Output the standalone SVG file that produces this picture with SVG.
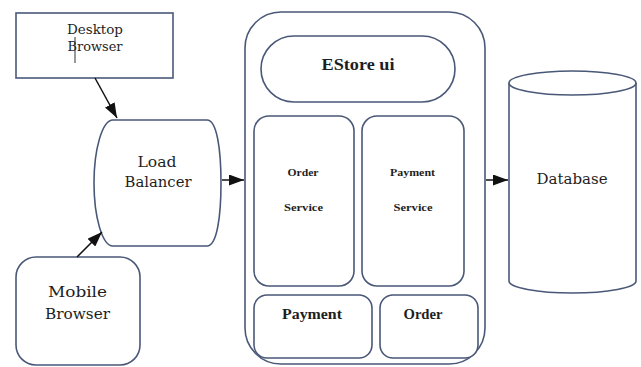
<svg xmlns="http://www.w3.org/2000/svg" width="641" height="367" viewBox="0 0 641 367">
<defs>
<style>
.s{fill:#fff;stroke:#4a5878;stroke-width:1.6}
.t{font-family:"DejaVu Serif",serif;fill:#1e1e1e;text-anchor:middle}
.b{font-family:"Liberation Serif","DejaVu Serif",serif;font-weight:bold;fill:#1e1e1e;text-anchor:middle}
.c{stroke:#111;stroke-width:1.5;fill:none}
</style>
<marker id="ah" viewBox="0 0 15 11" refX="15" refY="5.5" markerWidth="15" markerHeight="11" markerUnits="userSpaceOnUse" orient="auto">
<path d="M0,0 L15,5.5 L0,11 z" fill="#111"/>
</marker>
</defs>
<rect width="641" height="367" fill="#fff"/>
<g id="desktop">
<rect class="s" x="16" y="13" width="157" height="65"/>
<text class="t" x="95" y="34" font-size="12" textLength="56" lengthAdjust="spacingAndGlyphs">Desktop</text>
<text class="t" x="95" y="51" font-size="12" textLength="55" lengthAdjust="spacingAndGlyphs">Browser</text>
<line x1="75" y1="37" x2="75" y2="63" stroke="#333" stroke-width="1"/>
</g>
<g id="loadbalancer">
<path class="s" d="M113,120 L207,120 C217,120 221,150 221,183 C221,216 217,246 207,246 L113,246 C102,246 94,216 94,183 C94,150 102,120 113,120 Z"/>
<text class="t" x="157" y="167" font-size="14" textLength="39" lengthAdjust="spacingAndGlyphs">Load</text>
<text class="t" x="158" y="187" font-size="14" textLength="67" lengthAdjust="spacingAndGlyphs">Balancer</text>
</g>
<g id="mobile">
<rect class="s" x="16" y="257" width="124" height="108" rx="20"/>
<text class="t" x="77.5" y="297" font-size="14" textLength="59" lengthAdjust="spacingAndGlyphs">Mobile</text>
<text class="t" x="77.5" y="319" font-size="14" textLength="65" lengthAdjust="spacingAndGlyphs">Browser</text>
</g>
<g id="estore">
<rect class="s" x="245" y="12" width="240" height="352" rx="36"/>
</g>
<g id="estoreui">
<rect class="s" x="261" y="36" width="194" height="66" rx="33"/>
<text class="b" x="358" y="70" font-size="16" textLength="73" lengthAdjust="spacingAndGlyphs">EStore ui</text>
</g>
<g id="orderservice">
<rect class="s" x="254" y="116" width="100" height="170" rx="15"/>
<text class="b" x="303" y="176" font-size="11" textLength="31" lengthAdjust="spacingAndGlyphs">Order</text>
<text class="b" x="303.5" y="211" font-size="11" textLength="39" lengthAdjust="spacingAndGlyphs">Service</text>
</g>
<g id="paymentservice">
<rect class="s" x="362" y="116" width="102" height="170" rx="15"/>
<text class="b" x="412.5" y="176" font-size="11" textLength="45" lengthAdjust="spacingAndGlyphs">Payment</text>
<text class="b" x="413" y="211" font-size="11" textLength="39" lengthAdjust="spacingAndGlyphs">Service</text>
</g>
<g id="payment">
<rect class="s" x="254" y="295" width="118" height="63" rx="13"/>
<text class="b" x="312" y="319" font-size="14" textLength="60" lengthAdjust="spacingAndGlyphs">Payment</text>
</g>
<g id="order">
<rect class="s" x="380" y="295" width="98" height="63" rx="13"/>
<text class="b" x="423" y="319" font-size="14" textLength="39" lengthAdjust="spacingAndGlyphs">Order</text>
</g>
<g id="database">
<path class="s" d="M509,83 L509,281 A63.5,12 0 0 0 636,281 L636,83"/>
<ellipse class="s" cx="572.5" cy="83" rx="63.5" ry="12"/>
<text class="t" x="572" y="184" font-size="14" textLength="71" lengthAdjust="spacingAndGlyphs">Database</text>
</g>
<g id="connectors">
<line class="c" x1="95" y1="78" x2="117" y2="118" marker-end="url(#ah)"/>
<line class="c" x1="77" y1="257" x2="102" y2="232" marker-end="url(#ah)"/>
<line class="c" x1="222" y1="180" x2="244" y2="180" marker-end="url(#ah)"/>
<line class="c" x1="486" y1="180" x2="508" y2="180" marker-end="url(#ah)"/>
</g>
</svg>
